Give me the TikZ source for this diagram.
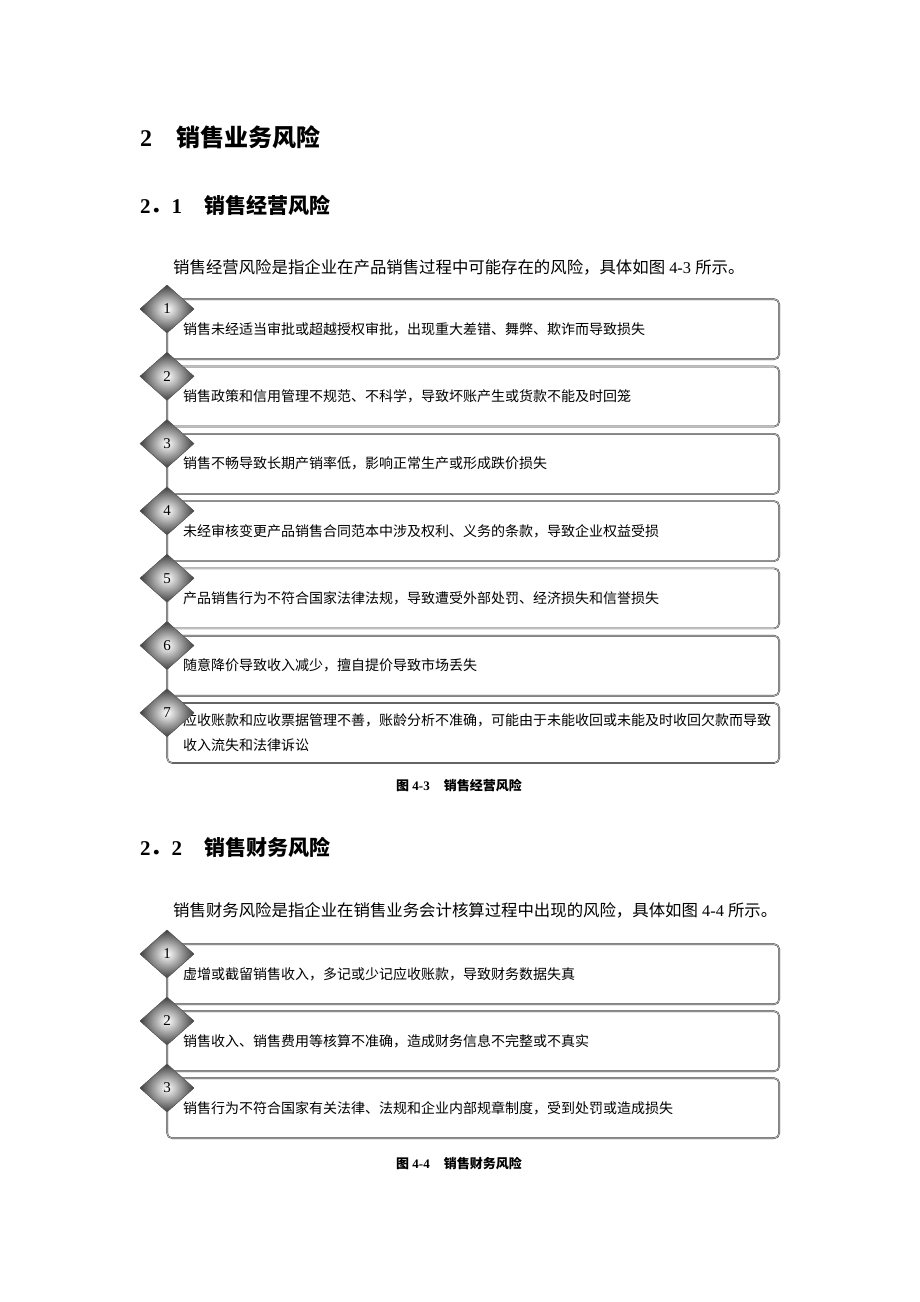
\documentclass[tikz,border=0pt]{standalone}
\usepackage{fontspec}
\setmainfont{Liberation Serif}
\newfontfamily\cjk{Noto Sans CJK SC}
\usetikzlibrary{shapes.geometric}

\begin{document}
\begin{tikzpicture}[x=1pt,y=-1pt,
  riskbox/.style={draw=black!80,double=gray!50,double distance=0.8pt,rounded corners=5pt,
    text width=580pt,inner xsep=16pt,minimum height=60pt,align=left,anchor=north west,
    font=\cjk\fontsize{14}{25}\selectfont},
  numdiamond/.style={shape=diamond,draw=black!65,inner color=white,outer color=black!75,
    minimum width=54pt,minimum height=48pt,inner sep=0pt,font=\fontsize{15}{15}\selectfont},
  link/.style={draw=gray!50!black,line width=1pt},
  headA/.style={anchor=west,inner sep=0pt,font=\bfseries\fontsize{24}{24}\selectfont},
  headB/.style={anchor=west,inner sep=0pt,font=\bfseries\fontsize{21}{21}\selectfont},
  para/.style={anchor=west,inner sep=0pt,font=\fontsize{16.4}{16}\selectfont},
  caption/.style={inner sep=0pt,font=\bfseries\fontsize{13}{13}\selectfont}]
\useasboundingbox (0,0) rectangle (920,1302);

% headings
\node [headA,name=h2] at (140,137) {2\hspace{24pt}{\cjk\bfseries 销售业务风险}};
\node [headB,name=h21] at (140,205) {2{\cjk\bfseries ．}1\hspace{22pt}{\cjk\bfseries 销售经营风险}};
\node [para,name=p21] at (173,267) {{\cjk 销售经营风险是指企业在产品销售过程中可能存在的风险，具体如图} 4-3 {\cjk 所示。}};

% figure 4-3
\node [numdiamond,name=a1] at (167,309.0){1};
\node [numdiamond,name=a2] at (167,376.3){2};
\node [numdiamond,name=a3] at (167,443.6){3};
\node [numdiamond,name=a4] at (167,510.9){4};
\node [numdiamond,name=a5] at (167,578.2){5};
\node [numdiamond,name=a6] at (167,645.5){6};
\node [numdiamond,name=a7] at (167,712.8){7};
\draw [link] (a1)--(a2);
\draw [link] (a2)--(a3);
\draw [link] (a3)--(a4);
\draw [link] (a4)--(a5);
\draw [link] (a5)--(a6);
\draw [link] (a6)--(a7);
\node [riskbox,name=r1] at (167,299.0){销售未经适当审批或超越授权审批，出现重大差错、舞弊、欺诈而导致损失};
\node [riskbox,name=r2] at (167,366.3){销售政策和信用管理不规范、不科学，导致坏账产生或货款不能及时回笼};
\node [riskbox,name=r3] at (167,433.6){销售不畅导致长期产销率低，影响正常生产或形成跌价损失};
\node [riskbox,name=r4] at (167,500.9){未经审核变更产品销售合同范本中涉及权利、义务的条款，导致企业权益受损};
\node [riskbox,name=r5] at (167,568.2){产品销售行为不符合国家法律法规，导致遭受外部处罚、经济损失和信誉损失};
\node [riskbox,name=r6] at (167,635.5){随意降价导致收入减少，擅自提价导致市场丢失};
\node [riskbox,name=r7] at (167,702.8){应收账款和应收票据管理不善，账龄分析不准确，可能由于未能收回或未能及时收回欠款而导致\\收入流失和法律诉讼};
\node [numdiamond,name=a1] at (167,309.0){1};
\node [numdiamond,name=a2] at (167,376.3){2};
\node [numdiamond,name=a3] at (167,443.6){3};
\node [numdiamond,name=a4] at (167,510.9){4};
\node [numdiamond,name=a5] at (167,578.2){5};
\node [numdiamond,name=a6] at (167,645.5){6};
\node [numdiamond,name=a7] at (167,712.8){7};
\node [caption,name=c43] at (459,785) {{\cjk\bfseries 图} 4-3\hspace{14pt}{\cjk\bfseries 销售经营风险}};

% section 2.2
\node [headB,name=h22] at (140,847) {2{\cjk\bfseries ．}2\hspace{22pt}{\cjk\bfseries 销售财务风险}};
\node [para,name=p22] at (173,910) {{\cjk 销售财务风险是指企业在销售业务会计核算过程中出现的风险，具体如图} 4-4 {\cjk 所示。}};

% figure 4-4
\node [numdiamond,name=b1] at (167,954){1};
\node [numdiamond,name=b2] at (167,1021){2};
\node [numdiamond,name=b3] at (167,1088){3};
\draw [link] (b1)--(b2);
\draw [link] (b2)--(b3);
\node [riskbox,name=f1] at (167,944){虚增或截留销售收入，多记或少记应收账款，导致财务数据失真};
\node [riskbox,name=f2] at (167,1011){销售收入、销售费用等核算不准确，造成财务信息不完整或不真实};
\node [riskbox,name=f3] at (167,1078){销售行为不符合国家有关法律、法规和企业内部规章制度，受到处罚或造成损失};
\node [numdiamond,name=b1] at (167,954){1};
\node [numdiamond,name=b2] at (167,1021){2};
\node [numdiamond,name=b3] at (167,1088){3};
\node [caption,name=c44] at (459,1163) {{\cjk\bfseries 图} 4-4\hspace{14pt}{\cjk\bfseries 销售财务风险}};
\end{tikzpicture}
\end{document}
